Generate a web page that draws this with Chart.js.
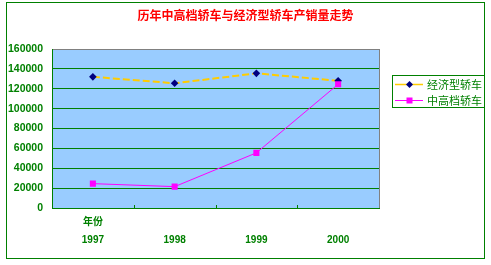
<!DOCTYPE html>
<html><head><meta charset="utf-8">
<script src="https://cdn.jsdelivr.net/npm/chart.js@4"></script>
<style>html,body{margin:0;padding:0;background:#fff}#wrap{width:491px;height:265px}</style>
</head><body><div id="wrap"><canvas id="c" width="491" height="265"></canvas></div>
<script>
const chartTitle = '历年中高档轿车与经济型轿车产销量走势';
const axisTitle = '年份';
const categories = ['1997', '1998', '1999', '2000'];
const economyLabel = '经济型轿车';
const economyValues = [132000, 125500, 135500, 128000];
const premiumLabel = '中高档轿车';
const premiumValues = [24500, 21500, 55500, 124500];
const yMin = 0, yMax = 160000, yStep = 20000;

const GREEN = '#008000';
const tickLabels = categories.map((c, i) => [i === 0 ? axisTitle : '', c]);

const decor = {
  id: 'decor',
  beforeDraw(chart) {
    const {ctx, chartArea: a} = chart;
    ctx.save();
    ctx.fillStyle = '#99CCFF';
    ctx.fillRect(a.left, a.top, a.right - a.left, a.bottom - a.top);
    ctx.restore();
  },
  afterDraw(chart) {
    const {ctx, chartArea: a} = chart;
    const xs = chart.scales.x;
    ctx.save();
    // title
    ctx.fillStyle = '#FF0000';
    ctx.font = 'bold 12px "Noto Sans CJK SC"';
    ctx.textAlign = 'center'; ctx.textBaseline = 'middle';
    ctx.fillText(chartTitle, 245.5, 15.5);
    // right border of plot
    ctx.strokeStyle = '#808080'; ctx.lineWidth = 1;
    ctx.beginPath(); ctx.moveTo(a.right + 0.5, a.top); ctx.lineTo(a.right + 0.5, a.bottom); ctx.stroke();
    // inner tick marks at category boundaries
    ctx.strokeStyle = GREEN;
    for (let i = 1; i < categories.length; i++) {
      const x = Math.round((xs.getPixelForTick(i - 1) + xs.getPixelForTick(i)) / 2) + 0.5;
      ctx.beginPath(); ctx.moveTo(x, a.bottom - 3); ctx.lineTo(x, a.bottom); ctx.stroke();
    }
    // outer border
    ctx.strokeRect(6.5, 2.5, 478, 256);
    // legend
    ctx.strokeRect(392.5, 75.5, 92, 32);
    const items = chart.data.datasets;
    const rowsY = [84, 100];
    items.forEach((ds, i) => {
      const y = rowsY[i] + 0.5;
      ctx.strokeStyle = ds.borderColor; ctx.lineWidth = ds.legendLineWidth;
      ctx.setLineDash([]);
      ctx.beginPath(); ctx.moveTo(395, y); ctx.lineTo(423, y); ctx.stroke();
      ctx.fillStyle = ds.pointBackgroundColor;
      if (ds.pointStyle === 'rectRot') {
        const r = 3.5;
        ctx.beginPath(); ctx.moveTo(409.5, y - r); ctx.lineTo(409.5 + r, y); ctx.lineTo(409.5, y + r); ctx.lineTo(409.5 - r, y); ctx.closePath(); ctx.fill();
      } else {
        ctx.fillRect(406.5, y - 3, 6, 6);
      }
      ctx.fillStyle = GREEN;
      ctx.font = '11px "Noto Sans CJK SC"';
      ctx.textBaseline = 'middle'; ctx.textAlign = 'left';
      ctx.fillText(ds.label, 427, y);
    });
    ctx.restore();
  }
};

new Chart(document.getElementById('c'), {
  type: 'line',
  data: {
    labels: tickLabels,
    datasets: [
      {
        label: economyLabel, data: economyValues, order: 2,
        borderColor: '#FFCC00', borderWidth: 2, borderDash: [7, 3], legendLineWidth: 1.5,
        pointStyle: 'rectRot', pointRadius: 3.8, pointBackgroundColor: '#000080', pointBorderColor: '#000080', pointBorderWidth: 0,
        tension: 0, fill: false
      },
      {
        label: premiumLabel, data: premiumValues, order: 1,
        borderColor: '#FF00FF', borderWidth: 1, legendLineWidth: 1,
        pointStyle: 'rect', pointRadius: 4.3, pointBackgroundColor: '#FF00FF', pointBorderColor: '#FF00FF', pointBorderWidth: 0,
        tension: 0, fill: false
      }
    ]
  },
  options: {
    responsive: false, animation: false, devicePixelRatio: 1,
    layout: {padding: {left: 0, right: 112, top: 49, bottom: 0}},
    plugins: {
      legend: {display: false}, tooltip: {enabled: false}, title: {display: false}
    },
    scales: {
      x: {
        offset: true,
        grid: {display: false, drawTicks: false},
        border: {display: true, color: GREEN, width: 1},
        ticks: {color: GREEN, padding: 5.5, maxRotation: 0, autoSkip: false,
          font: {family: '"Liberation Sans", "Noto Sans CJK SC"', size: 10, weight: 'bold', lineHeight: '18px'}},
        afterFit(s) { s.height = 57; }
      },
      y: {
        min: yMin, max: yMax,
        grid: {drawTicks: false, color: ctx => ctx.tick && ctx.tick.value === yMax ? '#808080' : GREEN, lineWidth: 1},
        border: {display: true, color: GREEN, width: 1},
        ticks: {stepSize: yStep, color: GREEN, padding: 9, callback: v => String(v),
          font: {family: '"Liberation Sans"', size: 10.5, weight: 'bold'}},
        afterFit(s) { s.width = 52; }
      }
    }
  },
  plugins: [decor]
});
</script></body></html>
